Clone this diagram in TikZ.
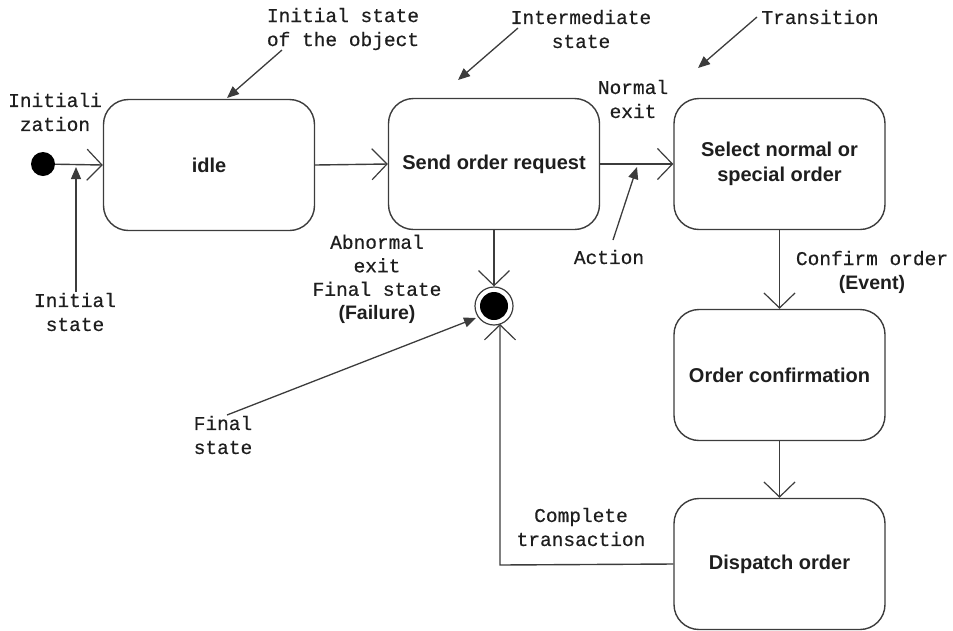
\documentclass[tikz,border=0pt]{standalone}
\usepackage{fontspec}
\setmainfont{Liberation Sans}
\newfontfamily\monof[FakeBold=0.5]{Liberation Mono}
\usetikzlibrary{arrows.meta}
\definecolor{ln}{HTML}{3C3C3C}
\definecolor{tx}{HTML}{1E1E1E}
\tikzset{
  statebox/.style={draw=ln, line width=1.4pt, rounded corners=25pt, minimum width=211pt, minimum height=131pt, align=center, text=tx, font=\bfseries\fontsize{20}{25}\selectfont, inner sep=0pt},
  mono/.style={align=center, text=tx, font=\monof\fontsize{19.5}{24}\selectfont, inner sep=0pt},
  trans/.style={draw=ln, line width=1.4pt, -{Straight Barb[length=15pt,width=31pt,line width=1.2pt]}},
  note/.style={draw=ln, line width=1.3pt, -{Triangle[length=12pt,width=10pt]}},
}
\newcommand{\sanslbl}[1]{{\fontspec{Liberation Sans}\bfseries\fontsize{19.5}{23.5}\selectfont #1}}
\begin{document}
\begin{tikzpicture}[x=1pt,y=-1pt]
\useasboundingbox (0,0) rectangle (953,630);
% states
\node[statebox] (idle) at (209,165) {idle};
\node[statebox] (send) at (494,164) {Send order request};
\node[statebox] (sel) at (779.5,164) {Select normal or\\special order};
\node[statebox] (conf) at (779.5,375) {Order confirmation};
\node[statebox] (disp) at (779.5,564) {Dispatch order};
% pseudo-states
\node[circle, fill=black, minimum size=24pt, inner sep=0pt] (init) at (43,164) {};
\node[circle, draw=ln, line width=1.2pt, minimum size=38pt, inner sep=0pt] (fin) at (494,306) {};
\node[circle, fill=black, minimum size=28pt, inner sep=0pt] at (fin.center) {};
% transitions
\draw[trans] (init) -- (idle.west);
\draw[trans] (idle.east) -- (send.west);
\draw[trans] (send.east) -- (sel.west);
\draw[trans] (send.south) -- (fin.north);
\draw[trans] (sel.south) -- (conf.north);
\draw[trans] (conf.south) -- (disp.north);
\coordinate (loopc) at (500,565);
\coordinate (finb) at (500,324);
\draw[trans] (disp.west) -- (loopc) -- (finb);
% labels
\node[mono] (linit) at (55,112) {Initiali\\zation};
\node[mono] (lobj) at (343,29) {Initial state\\of the object};
\node[mono] (linter) at (581,29) {Intermediate\\state};
\node[mono] (ltrans) at (820,17) {Transition};
\node[mono] (lnorm) at (633,99) {Normal\\exit};
\node[mono] (lact) at (609,257) {Action};
\node[mono] (lconf) at (872,272) {Confirm order\\\sanslbl{(Event)}};
\node[mono, font=\monof\fontsize{19.5}{23.5}\selectfont] (labn) at (377,279) {Abnormal\\exit\\Final state\\\sanslbl{(Failure)}};
\node[mono] (listate) at (75,312) {Initial\\state};
\node[mono] (lfin) at (223,435) {Final\\state};
\node[mono] (lcomp) at (581,527) {Complete\\transaction};
% annotation arrows
\coordinate (a1s) at (282,50);  \coordinate (a1e) at (227,98);
\coordinate (a2s) at (518,28);  \coordinate (a2e) at (458,80);
\coordinate (a3s) at (757,17);  \coordinate (a3e) at (698,68);
\coordinate (a4s) at (613,240); \coordinate (a4e) at (637,167);
\coordinate (a5s) at (76,292);  \coordinate (a5e) at (76,167);
\coordinate (a6s) at (227,415); \coordinate (a6e) at (476,318);
\draw[note] (a1s) -- (a1e);
\draw[note] (a2s) -- (a2e);
\draw[note] (a3s) -- (a3e);
\draw[note] (a4s) -- (a4e);
\draw[note] (a5s) -- (a5e);
\draw[note] (a6s) -- (a6e);
\end{tikzpicture}
\end{document}
